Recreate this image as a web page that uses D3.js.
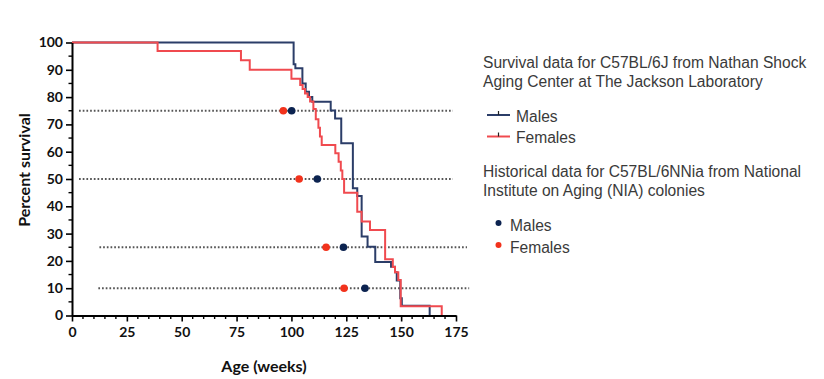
<!DOCTYPE html>
<html><head><meta charset="utf-8">
<script src="https://cdn.jsdelivr.net/npm/d3@7"></script>
<style>body{margin:0;background:#fff}svg{display:block}</style>
</head><body><svg id="c" width="824" height="379"></svg>
<script>
// ---- data ----
const maleWeeks = [0, 101, 101.8, 105, 106.5, 108, 109.5, 117.9, 119.9, 122.7, 128, 130, 132, 134.7, 138.2, 145.4, 147.2, 148, 149.6, 150.3, 163];
const maleSurv  = [100, 92, 90.6, 85, 82, 80, 78.3, 75.1, 72.2, 63.1, 46.6, 43.8, 28.9, 25.2, 19.6, 17.9, 15.8, 12.8, 6.3, 3.6, 0];
const femaleWeeks = [0, 39, 77, 81, 100, 104, 105.1, 106.2, 107.4, 108.5, 110, 111.1, 112.3, 113, 113.8, 120, 121.5, 122.5, 123.2, 124, 130, 132, 135.8, 142.7, 146.2, 147.2, 148.7, 149.8, 168.5];
const femaleSurv  = [100, 96.9, 93.5, 90, 86.7, 84.4, 83, 81.3, 80, 78.4, 75.6, 71.9, 68.8, 65.6, 62.5, 59.4, 56.3, 53.1, 50, 45, 38, 34.4, 31.3, 20.6, 17.8, 15.8, 13, 3.4, 0];
const refLevels = [75, 50, 25, 10];
const refStart = [3.2, 3.2, 12.5, 12];
const refEnd = [173.6, 173.6, 180, 181];
const niaMaleWeeks = [100.1, 111.8, 123.7, 133.5];
const niaFemaleWeeks = [96.3, 103.5, 115.8, 124];
const xTicks = [0, 25, 50, 75, 100, 125, 150, 175];
const yTicks = [0, 10, 20, 30, 40, 50, 60, 70, 80, 90, 100];
const legendTitle1 = ["Survival data for C57BL/6J from Nathan Shock", "Aging Center at The Jackson Laboratory"];
const legendTitle2 = ["Historical data for C57BL/6NNia from National", "Institute on Aging (NIA) colonies"];
const seriesNames = ["Males", "Females"];

// ---- styles ----
const maleLine = "#2b3d68", femaleLine = "#f04a4f";
const maleDot = "#0c2350", femaleDot = "#f2321c";

const svg = d3.select("#c");
const x = d3.scaleLinear().domain([0, 175]).range([72, 456]);
const y = d3.scaleLinear().domain([0, 100]).range([315.5, 42.5]);

// reference dotted lines
svg.append("g").selectAll("line").data(refLevels).join("line")
  .attr("x1", (d,i) => x(refStart[i])).attr("x2", (d,i) => x(refEnd[i]))
  .attr("y1", d => y(d)).attr("y2", d => y(d))
  .attr("stroke", "#555").attr("stroke-width", 2).attr("stroke-dasharray", "1.7,2");

// step curves
const line = d3.line().x(d => x(d[0])).y(d => y(d[1])).curve(d3.curveStepAfter);
svg.append("path").datum(maleWeeks.map((w,i)=>[w, maleSurv[i]]))
  .attr("d", line).attr("fill","none").attr("stroke", maleLine).attr("stroke-width", 2);
svg.append("path").datum(femaleWeeks.map((w,i)=>[w, femaleSurv[i]]))
  .attr("d", line).attr("fill","none").attr("stroke", femaleLine).attr("stroke-width", 2);

// NIA dots
svg.append("g").selectAll("circle").data(niaFemaleWeeks).join("circle")
  .attr("cx", d => x(d)).attr("cy", (d,i) => y(refLevels[i])).attr("r", 3.8).attr("fill", femaleDot);
svg.append("g").selectAll("circle").data(niaMaleWeeks).join("circle")
  .attr("cx", d => x(d)).attr("cy", (d,i) => y(refLevels[i])).attr("r", 3.8).attr("fill", maleDot);

// axes
const font = "Lato, 'Open Sans', sans-serif";
const xAxis = svg.append("g").attr("transform", `translate(0,${y(0)})`)
  .call(d3.axisBottom(x).tickValues(xTicks).tickSize(6).tickSizeOuter(0).tickPadding(6));
const yAxis = svg.append("g").attr("transform", `translate(${x(0)},0)`)
  .call(d3.axisLeft(y).tickValues(yTicks).tickSize(6).tickSizeOuter(0).tickPadding(3));
[xAxis, yAxis].forEach(a => {
  a.select(".domain").attr("stroke", "#000").attr("stroke-width", 2);
  a.selectAll(".tick line").attr("stroke", "#000").attr("stroke-width", 1.6);
  a.selectAll("text").attr("font-family", font).attr("font-weight", "bold").attr("font-size", 14).attr("fill", "#111");
});
// minor ticks
svg.append("g").selectAll("line").data(d3.range(5, 175, 5).filter(v => v % 25)).join("line")
  .attr("x1", d => x(d)).attr("x2", d => x(d)).attr("y1", y(0)).attr("y2", y(0) + 3.5)
  .attr("stroke", "#000").attr("stroke-width", 1.4);
svg.append("g").selectAll("line").data(d3.range(5, 100, 10)).join("line")
  .attr("x1", x(0) - 3.5).attr("x2", x(0)).attr("y1", d => y(d)).attr("y2", d => y(d))
  .attr("stroke", "#000").attr("stroke-width", 1.4);

svg.append("text").attr("x", 264).attr("y", 372).attr("text-anchor", "middle")
  .attr("font-family", font).attr("font-weight", "bold").attr("font-size", 16).attr("fill", "#111")
  .text("Age (weeks)");
svg.append("text").attr("transform", "translate(30,170) rotate(-90)").attr("text-anchor", "middle")
  .attr("font-family", font).attr("font-weight", "bold").attr("font-size", 16).attr("fill", "#111")
  .text("Percent survival");

// legend
const lf = "'Liberation Sans', Arial, sans-serif";
const lg = svg.append("g").attr("font-family", lf).attr("font-size", 15.6).attr("fill", "#3a3a3a");
legendTitle1.forEach((t,i) => lg.append("text").attr("x", 483).attr("y", 68 + i*19).text(t));
legendTitle2.forEach((t,i) => lg.append("text").attr("x", 483).attr("y", 177 + i*19).text(t));
const lineCols = [maleLine, femaleLine];
seriesNames.forEach((n,i) => {
  const yy = 115 + i*21.5;
  lg.append("line").attr("x1", 487).attr("x2", 510).attr("y1", yy).attr("y2", yy).attr("stroke", lineCols[i]).attr("stroke-width", 2);
  lg.append("line").attr("x1", 498.5).attr("x2", 498.5).attr("y1", yy - 4).attr("y2", yy).attr("stroke", "#222").attr("stroke-width", 1.2);
  lg.append("text").attr("x", 516).attr("y", yy + 6.5).text(n);
});
const dotCols = [maleDot, femaleDot];
seriesNames.forEach((n,i) => {
  const yy = 223 + i*22;
  lg.append("circle").attr("cx", 498.5).attr("cy", yy).attr("r", 3).attr("fill", dotCols[i]);
  lg.append("text").attr("x", 510).attr("y", yy + 8).text(n);
});
</script></body></html>
